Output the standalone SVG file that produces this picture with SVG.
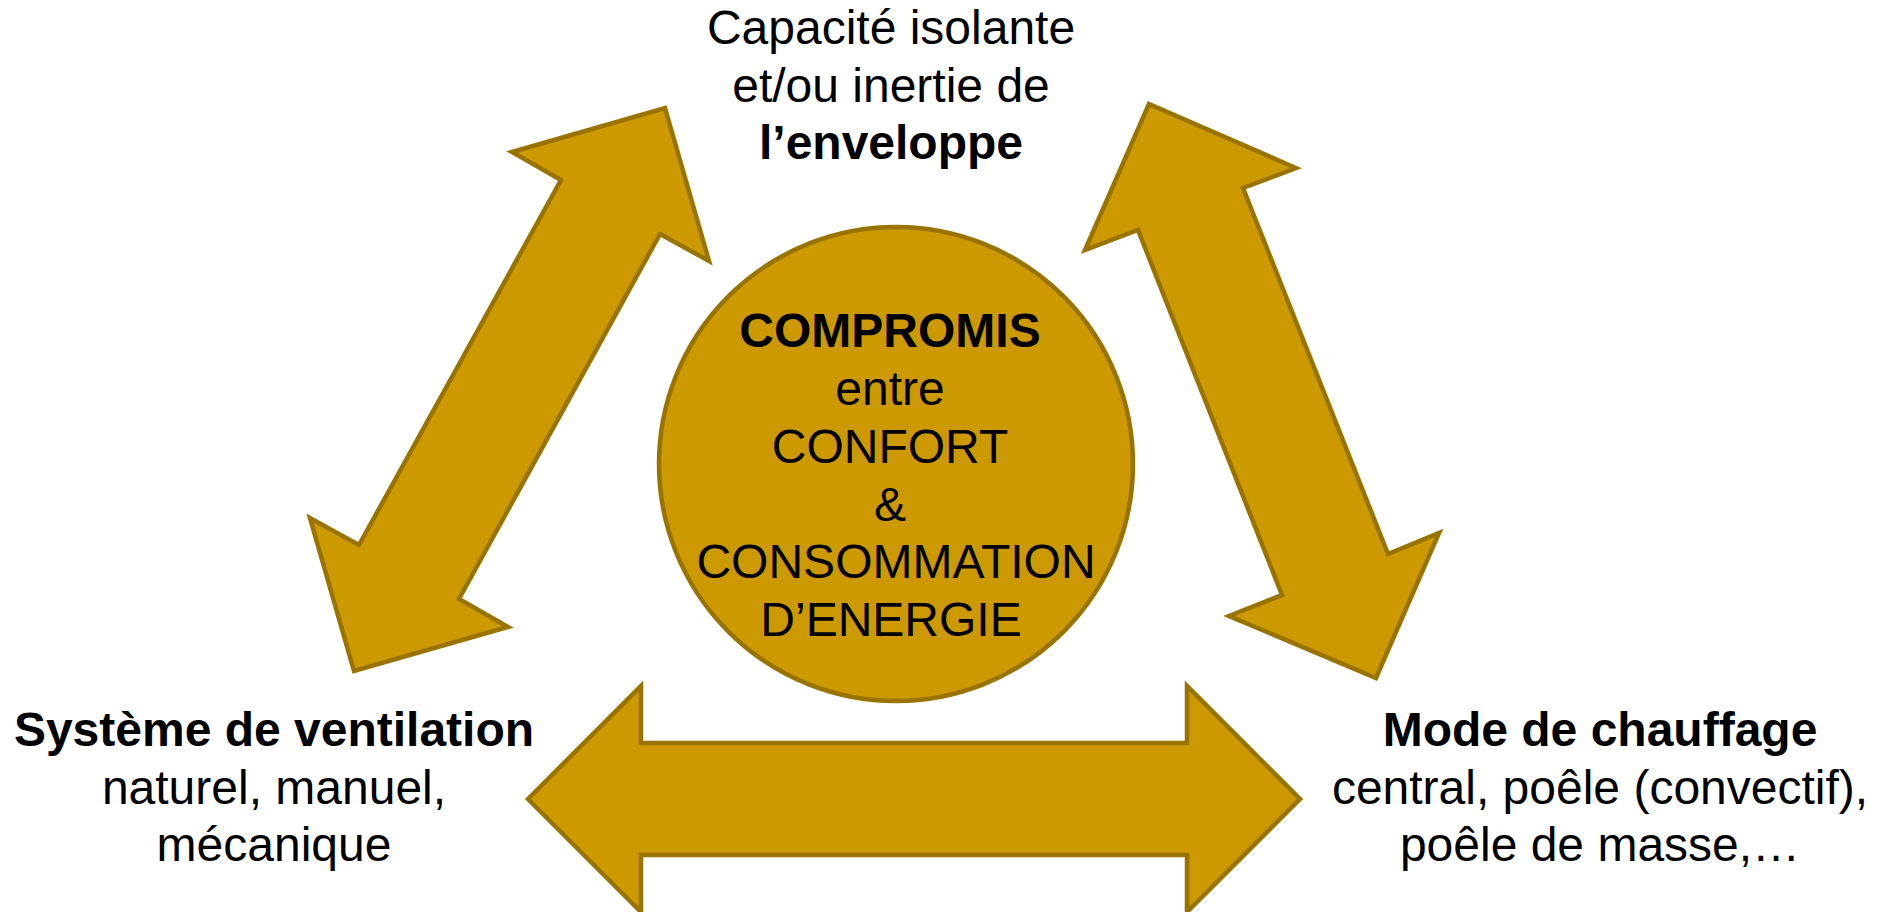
<svg xmlns="http://www.w3.org/2000/svg" width="1881" height="912" viewBox="0 0 1881 912">
<style>
.shape{fill:#CC9900;stroke:#997300;stroke-width:4.5;stroke-linejoin:miter}
text{font-family:"Liberation Sans",Arial,sans-serif;font-size:48px;fill:#000;text-anchor:middle}
.b{font-weight:bold}
</style>
<rect x="0" y="0" width="1881" height="912" fill="#fff"/>
<g id="connectors">
<polygon class="shape" points="665,108 709,261 660,234 459,599 508,627 354,671 310,518 359,545 561,180 512,152"/>
<polygon class="shape" points="1149,104 1296,168 1243,188 1388,554 1439,533 1376,678 1229,616 1282,595 1138,230 1085,250"/>
<polygon class="shape" points="528,799 641,686 641,743 1187,743 1187,686 1300,799 1187,912 1187,855 641,855 641,912"/>
</g>
<g id="center">
<circle class="shape" cx="896" cy="464" r="237"/>
<text x="890" y="347" class="b">COMPROMIS</text>
<text x="890" y="405">entre</text>
<text x="890" y="463">CONFORT</text>
<text x="890" y="521">&amp;</text>
<text x="896" y="578">CONSOMMATION</text>
<text x="891" y="636">D’ENERGIE</text>
</g>
<g id="enveloppe">
<text x="891" y="44">Capacité isolante</text>
<text x="891" y="102">et/ou inertie de</text>
<text x="891" y="159" class="b">l’enveloppe</text>
</g>
<g id="ventilation">
<text x="274" y="746" class="b">Système de ventilation</text>
<text x="274" y="804">naturel, manuel,</text>
<text x="274" y="861">mécanique</text>
</g>
<g id="chauffage">
<text x="1600" y="746" class="b">Mode de chauffage</text>
<text x="1600" y="804">central, poêle (convectif),</text>
<text x="1600" y="861">poêle de masse,…</text>
</g>
</svg>
